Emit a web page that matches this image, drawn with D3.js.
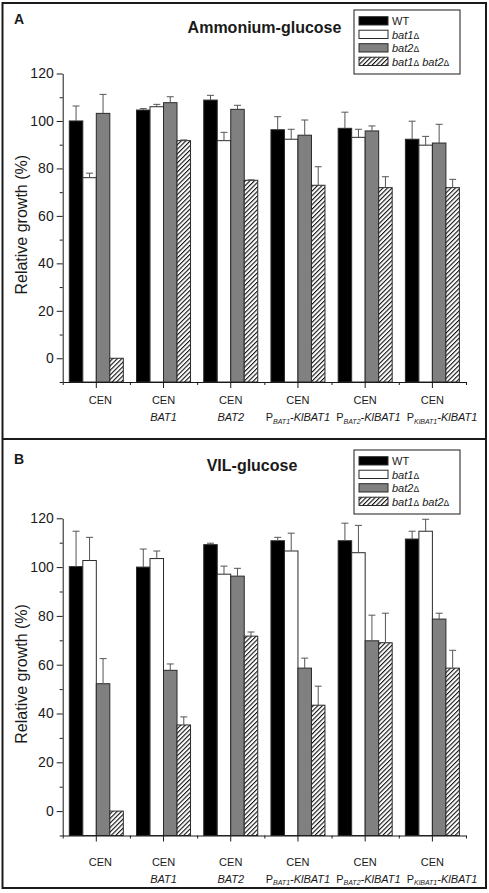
<!DOCTYPE html>
<html><head><meta charset="utf-8">
<script src="https://cdn.jsdelivr.net/npm/d3@7"></script>
<style>body{margin:0;background:#fff}svg{display:block;font-family:"Liberation Sans",Arial,sans-serif}</style>
</head><body><div id="chart"></div>
<script>
// ---- data ----
const catLine1 = ["CEN","CEN","CEN","CEN","CEN","CEN"];
const catLine2 = ["", "BAT1", "BAT2", "P{BAT1}-KlBAT1", "P{BAT2}-KlBAT1", "P{KlBAT1}-KlBAT1"];
const seriesNames = ["WT", "bat1Δ", "bat2Δ", "bat1Δ bat2Δ"];
const yTicks = [0, 20, 40, 60, 80, 100, 120];
const yMinorTicks = [-10, 10, 30, 50, 70, 90, 110];

// Panel A: Ammonium-glucose
const wtA   = [100, 104.6, 108.8, 96.3, 96.9, 92.3];
const bat1A = [76.1, 106, 91.7, 92.3, 93.1, 89.8];
const bat2A = [103.2, 107.7, 104.9, 94, 95.8, 90.7];
const dblA  = [0, 91.7, 75.0, 72.9, 71.9, 71.9];
const wtAErr   = [6.3, 0.6, 2.0, 5.5, 6.8, 7.6];
const bat1AErr = [1.9, 1.0, 3.5, 4.2, 3.4, 3.7];
const bat2AErr = [8.0, 2.5, 1.7, 6.4, 2.1, 7.9];
const dblAErr  = [0, 0.3, 0.2, 7.8, 4.6, 3.5];

// Panel B: VIL-glucose
const wtB   = [100.2, 100, 109.2, 110.8, 110.8, 111.5];
const bat1B = [102.7, 103.5, 97.1, 106.6, 105.9, 114.7];
const bat2B = [52.2, 57.7, 96.3, 58.6, 69.8, 78.7];
const dblB  = [0, 35.3, 71.7, 43.4, 69, 58.6];
const wtBErr   = [14.5, 7.4, 0.6, 1.4, 7.2, 3.2];
const bat1BErr = [9.5, 3.1, 3.3, 7.3, 11.2, 4.9];
const bat2BErr = [10.3, 2.6, 3.2, 4.1, 10.5, 2.4];
const dblBErr  = [0, 3.3, 1.7, 7.8, 12.1, 7.3];

// ---- drawing ----
const W = 489, H = 893;
const svg = d3.select("#chart").append("svg").attr("width", W).attr("height", H);

const defs = svg.append("defs");
const pat = defs.append("pattern").attr("id", "hatch").attr("patternUnits", "userSpaceOnUse")
  .attr("width", 3.2).attr("height", 3.2).attr("patternTransform", "rotate(45)");
pat.append("rect").attr("width", 3.2).attr("height", 3.2).attr("fill", "#fff");
pat.append("rect").attr("width", 1.1).attr("height", 3.2).attr("fill", "#111");

const fills = ["#000", "#fff", "#808080", "url(#hatch)"];
const ink = "#1a1a1a";

// frame
svg.append("rect").attr("x", 2.5).attr("y", 3).attr("width", 483.5).attr("height", 885)
  .attr("fill", "none").attr("stroke", ink).attr("stroke-width", 2);
svg.append("line").attr("x1", 2.5).attr("x2", 486).attr("y1", 439).attr("y2", 439)
  .attr("stroke", ink).attr("stroke-width", 2);

const panels = [
  {letter: "A", title: "Ammonium-glucose", tx: 264.5, ty: 33, top: 73.5, bottom: 382, off: 0, l1: 22, l2: 39,
   vals: [wtA, bat1A, bat2A, dblA], errs: [wtAErr, bat1AErr, bat2AErr, dblAErr]},
  {letter: "B", title: "VIL-glucose", tx: 252, ty: 470.5, top: 518.3, bottom: 835.5, off: 440, l1: 30.5, l2: 47,
   vals: [wtB, bat1B, bat2B, dblB], errs: [wtBErr, bat1BErr, bat2BErr, dblBErr]}
];

const xL = 62.7, xR = 466;
const xGroup = d3.scaleBand().domain(d3.range(catLine1.length)).range([xL, xR]).padding(0);
const gw = xGroup.bandwidth();
const xSeries = d3.scaleBand().domain(d3.range(seriesNames.length)).range([6.6, gw - 6.6]).padding(0);
const xLin = d3.scaleLinear().domain([0, catLine1.length]).range([xL, xR]);

panels.forEach(p => {
  const g = svg.append("g");
  const y = d3.scaleLinear().domain([-10, 120]).range([p.bottom, p.top]);

  g.append("text").attr("x", 14).attr("y", 24 + p.off).text(p.letter)
    .attr("font-size", 14).attr("font-weight", "bold").attr("fill", ink);
  g.append("text").attr("x", p.tx).attr("y", p.ty).attr("text-anchor", "middle").text(p.title)
    .attr("font-size", 16).attr("font-weight", "bold").attr("fill", ink);

  // bars (drawn from the bottom of the axis, as in the reference)
  p.vals.forEach((arr, si) => {
    g.append("g").selectAll("rect").data(arr).join("rect")
      .attr("x", (d, i) => xGroup(i) + xSeries(si))
      .attr("width", xSeries.bandwidth())
      .attr("y", d => y(d))
      .attr("height", d => y(-10) - y(d))
      .attr("fill", fills[si]).attr("stroke", "#2a2a2a").attr("stroke-width", 1);
  });
  // error bars (upward only)
  p.vals.forEach((arr, si) => {
    const eg = g.append("g").attr("stroke", "#555").attr("stroke-width", 1);
    arr.forEach((d, i) => {
      const e = p.errs[si][i];
      if (!e) return;
      const cx = xGroup(i) + xSeries(si) + xSeries.bandwidth() / 2;
      eg.append("line").attr("x1", cx).attr("x2", cx).attr("y1", y(d)).attr("y2", y(d + e));
      eg.append("line").attr("x1", cx - 3.5).attr("x2", cx + 3.5).attr("y1", y(d + e)).attr("y2", y(d + e));
    });
  });

  // y axis
  const ya = g.append("g").attr("transform", `translate(${xL},0)`)
    .call(d3.axisLeft(y).tickValues(yTicks).tickSize(6).tickSizeOuter(0).tickPadding(3));
  ya.selectAll("text").attr("font-size", 14).attr("fill", ink).attr("font-family", "Liberation Sans, Arial, sans-serif");
  ya.selectAll("line,path").attr("stroke", ink);
  const yb = g.append("g").attr("transform", `translate(${xL},0)`)
    .call(d3.axisLeft(y).tickValues(yMinorTicks).tickSize(3).tickSizeOuter(0).tickFormat(""));
  yb.select("path").remove();
  yb.selectAll("line").attr("stroke", ink);

  // x axis
  const xa = g.append("g").attr("transform", `translate(0,${p.bottom})`)
    .call(d3.axisBottom(xGroup).tickSize(6).tickSizeOuter(0).tickFormat(""));
  xa.selectAll("line,path").attr("stroke", ink);
  const xb = g.append("g").attr("transform", `translate(0,${p.bottom})`)
    .call(d3.axisBottom(xLin).tickValues(d3.range(catLine1.length + 1)).tickSize(3).tickSizeOuter(0).tickFormat(""));
  xb.select("path").remove();
  xb.selectAll("line").attr("stroke", ink);

  // x labels
  const lab = g.append("g").attr("fill", ink).attr("font-size", 11);
  let prevRight = -Infinity;
  catLine1.forEach((l1, i) => {
    const cx = xGroup(i) + gw / 2 + (catLine2[i] === "" ? 4 : 0);
    lab.append("text").attr("x", cx).attr("y", p.bottom + p.l1).attr("text-anchor", "middle").text(l1);
    const t = lab.append("text").attr("x", cx).attr("y", p.bottom + p.l2).attr("text-anchor", "middle");
    const m = catLine2[i].match(/^P\{(.+)\}(.*)$/);
    if (m) {
      t.append("tspan").text("P");
      t.append("tspan").attr("font-style", "italic").attr("font-size", 7).attr("dy", 2.5).text(m[1]);
      t.append("tspan").attr("font-style", "italic").attr("dy", -2.5).text(m[2]);
    } else {
      t.attr("font-style", "italic").text(catLine2[i]);
    }
    const bb = t.node().getBBox();
    if (bb.width > 0) {
      let left = bb.x;
      if (left < prevRight + 6) {
        const shift = prevRight + 6 - left;
        t.attr("x", cx + shift);
        left += shift;
      }
      prevRight = left + bb.width;
    }
  });

  // y title
  g.append("text").attr("transform", `translate(27,${(p.top + p.bottom) / 2 - 3}) rotate(-90)`)
    .attr("text-anchor", "middle").attr("font-size", 16).attr("fill", ink).text("Relative growth (%)");

  // legend
  const lg = g.append("g").attr("transform", `translate(354,${10 + p.off})`);
  lg.append("rect").attr("width", 106).attr("height", 64).attr("fill", "#fff").attr("stroke", ink).attr("stroke-width", 1);
  seriesNames.forEach((s, si) => {
    const by = 15 + si * 13.5;
    lg.append("rect").attr("x", 5).attr("y", by - 8.3).attr("width", 29).attr("height", 8.3)
      .attr("fill", fills[si]).attr("stroke", "#2a2a2a").attr("stroke-width", 1);
    const t = lg.append("text").attr("x", 38).attr("y", by).attr("font-size", 11).attr("fill", ink);
    s.split(/(Δ)/).forEach(part => {
      if (!part) return;
      const ts = t.append("tspan").text(part);
      if (part === "Δ") ts.attr("font-size", 8.5);
      else if (si > 0) ts.attr("font-style", "italic");
    });
  });
});
</script></body></html>
